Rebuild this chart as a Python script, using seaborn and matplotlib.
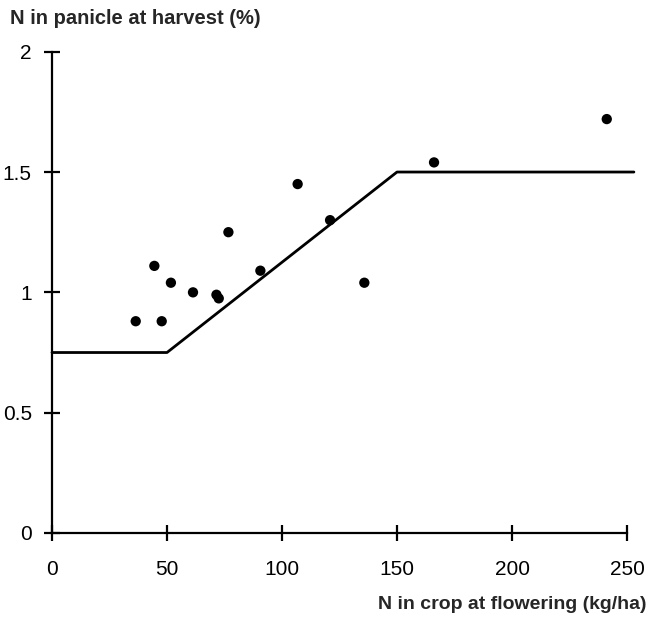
import matplotlib
matplotlib.use("Agg")
import matplotlib.pyplot as plt
import seaborn as sns
import pandas as pd

# Data
n_crop = [36.4, 47.7, 44.5, 51.7, 61.3, 71.5, 72.5, 76.7, 90.6, 106.8, 120.9, 135.8, 166.1, 241.2]
n_panicle = [0.88, 0.88, 1.11, 1.04, 1.00, 0.99, 0.975, 1.25, 1.09, 1.45, 1.30, 1.04, 1.54, 1.72]

line_x = [0, 50, 150, 253]
line_y = [0.75, 0.75, 1.5, 1.5]

x_ticks = [0, 50, 100, 150, 200, 250]
x_tick_labels = ["0", "50", "100", "150", "200", "250"]
y_ticks = [0, 0.5, 1, 1.5, 2]
y_tick_labels = ["0", "0.5", "1", "1.5", "2"]

x_title = "N in crop at flowering (kg/ha)"
y_title = "N in panicle at harvest (%)"

sns.set_style("ticks")
plt.rcParams["font.family"] = ["Liberation Sans", "DejaVu Sans"]

W, H = 650, 618
fig = plt.figure(figsize=(W / 100, H / 100), dpi=100)
ax = fig.add_axes([52 / W, (H - 533) / H, (627 - 52) / W, (533 - 51.7) / H])

pts = pd.DataFrame({"x": n_crop, "y": n_panicle})
sns.scatterplot(data=pts, x="x", y="y", ax=ax, color="black", s=55,
                edgecolor="none", zorder=3, legend=False)
sns.lineplot(x=line_x, y=line_y, ax=ax, color="black", linewidth=2.0,
             estimator=None, sort=False, clip_on=False)

ax.set_xlim(0, 250)
ax.set_ylim(0, 2)
ax.set_xticks(x_ticks)
ax.set_xticklabels(x_tick_labels)
ax.set_yticks(y_ticks)
ax.set_yticklabels(y_tick_labels)

for s in ["top", "right"]:
    ax.spines[s].set_visible(False)
for s in ["left", "bottom"]:
    ax.spines[s].set_linewidth(1.6)
    ax.spines[s].set_color("black")

ax.tick_params(axis="both", direction="inout", length=11, width=1.6,
               labelsize=15, colors="black")
ax.tick_params(axis="x", pad=14)
ax.tick_params(axis="y", pad=9)

ax.set_xlabel(x_title, fontsize=14, fontweight="bold", ha="right", va="baseline")
ax.xaxis.set_label_coords((647 - 52) / 575, (533 - 609) / 481.3)
ax.set_ylabel(y_title, fontsize=14.5, fontweight="bold", rotation=0,
              ha="left", va="baseline")
ax.yaxis.set_label_coords((10 - 52) / 575, (533 - 24) / 481.3)

fig.savefig("out.png", dpi=100)
